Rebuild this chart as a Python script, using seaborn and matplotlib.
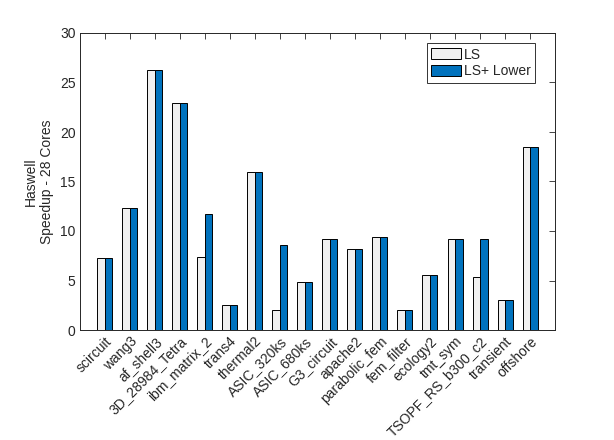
import pandas as pd
import matplotlib
matplotlib.use("Agg")
import matplotlib.pyplot as plt
import seaborn as sns

# dati
matrici = ['scircuit', 'wang3', 'af_shell3', '3D_28984_Tetra', 'ibm_matrix_2',
           'trans4', 'thermal2', 'ASIC_320ks', 'ASIC_680ks', 'G3_circuit',
           'apache2', 'parabolic_fem', 'fem_filter', 'ecology2', 'tmt_sym',
           'TSOPF_RS_b300_c2', 'transient', 'offshore']
ls = [7.25, 12.3, 26.3, 22.9, 7.35, 2.5, 16.0, 2.0, 4.8, 9.15,
      8.2, 9.35, 2.0, 5.6, 9.15, 5.4, 3.0, 18.45]
ls_lower = [7.25, 12.3, 26.3, 22.9, 11.7, 2.5, 16.0, 8.55, 4.8, 9.15,
            8.2, 9.35, 2.0, 5.6, 9.15, 9.15, 3.0, 18.45]
serie = ['LS', 'LS+ Lower']
colori = ['#F0F0F0', '#0072BD']

df = pd.DataFrame({
    'matrice': matrici * 2,
    'speedup': ls + ls_lower,
    'metodo': [serie[0]] * len(ls) + [serie[1]] * len(ls_lower),
})

sns.set_style('white')
plt.rcParams['font.family'] = ['Liberation Sans', 'DejaVu Sans']

fig = plt.figure(figsize=(6.14, 4.4), dpi=100)
ax = fig.add_axes([0.130, 0.25, 0.774, 0.675])
sns.barplot(data=df, x='matrice', y='speedup', hue='metodo', order=matrici,
            hue_order=serie, palette=colori, width=0.6, edgecolor='black',
            linewidth=0.7, saturation=1, ax=ax)

ax.set_xlim(-1, len(matrici))
ax.set_ylim(0, 30)
ax.set_yticks(range(0, 31, 5))
ax.set_xlabel('')
ax.set_ylabel('Haswell\nSpeedup - 28 Cores', fontsize=10, color='#262626')
ax.set_xticks(range(len(matrici)))
ax.set_xticklabels(matrici, rotation=45, ha='right', rotation_mode='anchor')
ax.tick_params(direction='in', top=True, right=True, length=4, width=0.6,
               labelsize=10, colors='#262626', pad=3)
for s in ax.spines.values():
    s.set_linewidth(0.7)
    s.set_color('#262626')

leg = ax.legend(loc='upper right', bbox_to_anchor=(0.957, 0.965), fontsize=10,
                frameon=True, fancybox=False, edgecolor='black',
                handlelength=2.2, handleheight=0.8, handletextpad=0.15,
                borderpad=0.3, labelspacing=0.2, borderaxespad=0)
leg.get_frame().set_linewidth(0.7)

fig.savefig('out.png', dpi=100)
